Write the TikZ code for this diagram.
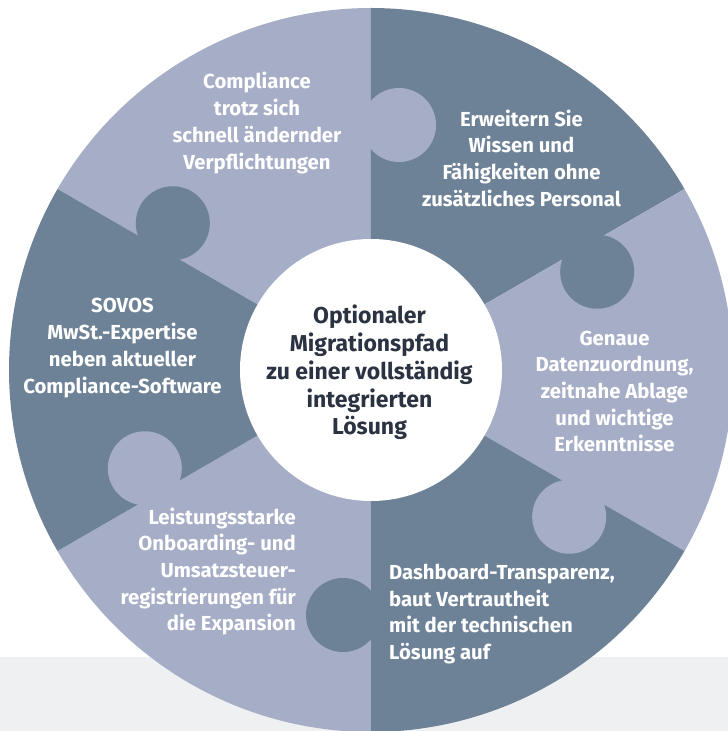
\documentclass[tikz,border=0pt]{standalone}
\usepackage{fontspec}
\setmainfont{Fira Sans}
\usetikzlibrary{positioning,calc}
\definecolor{pieceLight}{HTML}{A6ADC6}
\definecolor{pieceDark}{HTML}{6E8297}
\definecolor{bandGray}{HTML}{EFF0F2}
\definecolor{coreText}{HTML}{2B3342}

\begin{document}
\begin{tikzpicture}[x=1pt, y=1pt]
  \tikzstyle{piecetext}=[text=white, inner sep=0pt, align=center, font=\fontsize{20.3}{26.7}\selectfont\bfseries]
  \tikzstyle{coretext}=[text=coreText, inner sep=0pt, align=center, font=\fontsize{23}{27.8}\selectfont\bfseries]

  % page and grey band
  \useasboundingbox (-371,-361) rectangle (357,370);
  \fill[bandGray] (-371,-361) rectangle (357,-287);

  % six puzzle pieces
  \foreach \a/\col in {90/pieceLight, 30/pieceDark, -30/pieceLight, -90/pieceDark, -150/pieceLight, 150/pieceDark}
    \fill[\col] (0,0) -- (\a:362) arc[start angle=\a, end angle=\a+60, radius=362] -- cycle;
  % knobs
  \foreach \a/\col in {90/pieceLight, 30/pieceDark, -30/pieceLight, -90/pieceDark, -150/pieceLight, 150/pieceDark}
    \fill[\col] ([shift={(\a-90:28)}]\a:245) circle[radius=37];

  \node[circle, fill=white, minimum size=262pt, inner sep=0pt] (hub) at (0,0) {};
  \node[coretext] (core) at (-1.5,-2.6) {Optionaler\\Migrationspfad\\zu einer vollständig\\integrierten\\Lösung};

  \node[piecetext] (compliance) at (-114,247) {Compliance\\trotz sich\\schnell ändernder\\Verpflichtungen};
  \node[piecetext] (wissen) at (150.5,212) {Erweitern Sie\\Wissen und\\Fähigkeiten ohne\\zusätzliches Personal};
  \node[piecetext] (daten) at (243.5,-21.5) {Genaue\\Datenzuordnung,\\zeitnahe Ablage\\und wichtige\\Erkenntnisse};
  \node[piecetext, align=left, anchor=west] (dashboard) at (18,-244) {Dashboard-Transparenz,\\baut Vertrautheit\\mit der technischen\\Lösung auf};
  \node[piecetext, align=right, anchor=east] (onboarding) at (-75,-201.5) {Leistungsstarke\\Onboarding- und\\Umsatzsteuer-\\registrierungen für\\die Expansion};
  \node[piecetext] (sovos) at (-248.5,22) {SOVOS\\MwSt.-Expertise\\neben aktueller\\Compliance-Software};
\end{tikzpicture}
\end{document}
